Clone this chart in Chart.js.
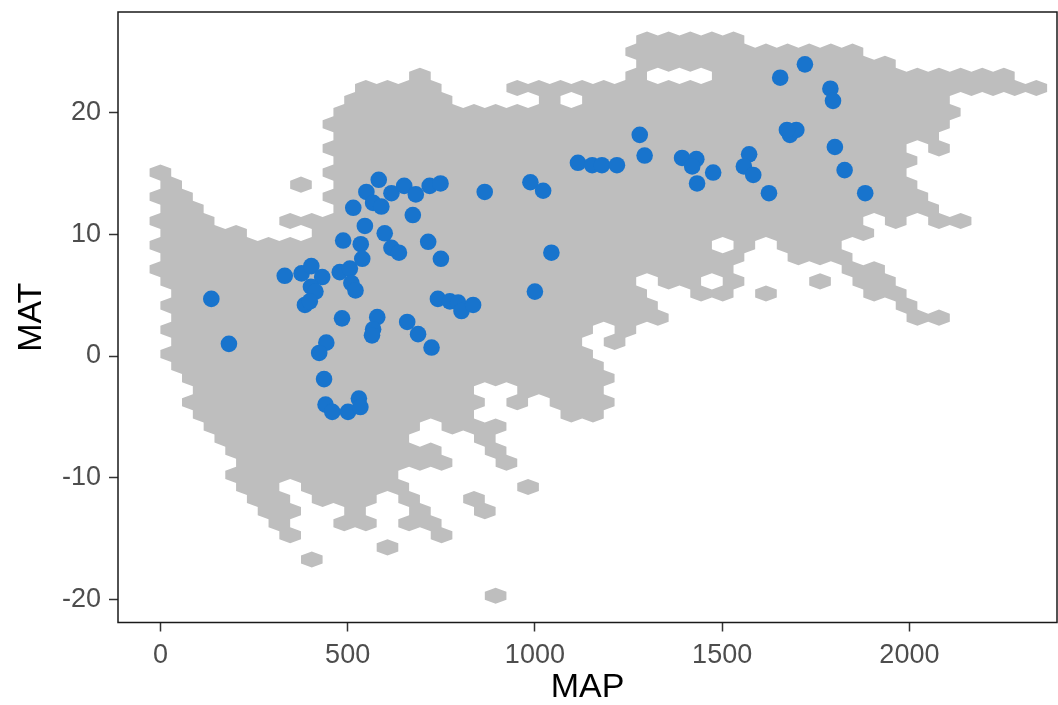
<!DOCTYPE html>
<html>
<head>
<meta charset="utf-8">
<script src="https://cdn.jsdelivr.net/npm/chart.js@4.4.0/dist/chart.umd.js"></script>
<style>
  html, body { margin: 0; padding: 0; background: #fff; }
  #wrap { width: 1058px; height: 705px; }
</style>
</head>
<body>
<div id="wrap"><canvas id="chart" width="1058" height="705"></canvas></div>
<script>
// Site points: mean annual precipitation (MAP) and mean annual temperature (MAT)
const siteMAP = [136, 183, 332, 377, 403, 432, 402, 414, 386, 399,
                 479, 506, 510, 521, 485, 579, 568, 565, 659, 688,
                 724, 741, 773, 795, 804, 835, 443, 424, 437, 441,
                 459, 501, 530, 534, 546, 488, 535, 539, 599, 617,
                 637, 674, 715, 749, 1044, 1000, 583, 550, 568, 590,
                 515, 617, 651, 682, 719, 748, 866, 988, 1022, 1115,
                 1153, 1179, 1219, 1280, 1293, 1393, 1431, 1420, 1476, 1433,
                 1572, 1558, 1583, 1625, 1655, 1721, 1789, 1796, 1681, 1698,
                 1673, 1801, 1827, 1882];
const siteMAT = [4.7, 1.0, 6.6, 6.8, 7.4, 6.5, 5.7, 5.3, 4.2, 4.5,
                 6.9, 7.2, 6.0, 5.4, 3.1, 3.2, 2.2, 1.7, 2.8, 1.8,
                 0.7, 4.7, 4.5, 4.4, 3.7, 4.2, 1.1, 0.25, -1.9, -4.0,
                 -4.6, -4.6, -3.5, -4.2, 10.7, 9.5, 9.2, 8.0, 10.1, 8.9,
                 8.5, 11.6, 9.4, 8.0, 8.5, 5.3, 14.5, 13.5, 12.6, 12.3,
                 12.2, 13.4, 14.0, 13.3, 14.0, 14.2, 13.5, 14.3, 13.6, 15.9,
                 15.7, 15.7, 15.7, 18.2, 16.5, 16.3, 16.2, 15.6, 15.1, 14.2,
                 16.6, 15.6, 14.9, 13.4, 22.9, 24.0, 22.0, 21.0, 18.2, 18.6,
                 18.6, 17.2, 15.3, 13.4];

// Hex grid of the background density layer (binwidths and first row)
const hexBinX = 57.75;
const hexBinY = 0.995;
const hexOriginX = 0;
const hexOriginY = -19.73;

// Occupied hex cells: [row, first column, last column]; even rows are shifted half a bin
const hexRuns = [
  [46, 22, 26],
  [45, 22, 32],
  [44, 22, 33],
  [43, 12, 12], [43, 22, 22], [43, 26, 39],
  [42, 9, 12], [42, 16, 40],
  [41, 9, 13], [41, 18, 18], [41, 20, 36],
  [40, 8, 36],
  [39, 8, 36],
  [38, 8, 35],
  [37, 8, 34], [37, 36, 36],
  [36, 8, 34],
  [35, 0, 0], [35, 8, 34],
  [34, 0, 0], [34, 6, 6], [34, 8, 34],
  [33, 0, 1], [33, 8, 35],
  [32, 0, 1], [32, 8, 35],
  [31, 0, 2], [31, 6, 32], [31, 34, 34], [31, 36, 37],
  [30, 0, 3], [30, 7, 32],
  [29, 0, 25], [29, 27, 27], [29, 29, 31],
  [28, 0, 26], [28, 29, 31],
  [27, 0, 26], [27, 32, 33],
  [26, 0, 21], [26, 23, 24], [26, 26, 26], [26, 30, 30], [26, 32, 33],
  [25, 1, 22], [25, 25, 26], [25, 28, 28], [25, 33, 34],
  [24, 0, 22], [24, 34, 34],
  [23, 1, 23], [23, 35, 36],
  [22, 0, 19], [22, 21, 21],
  [21, 1, 19], [21, 21, 21],
  [20, 0, 19],
  [19, 1, 20],
  [18, 1, 20],
  [17, 2, 14], [17, 17, 20],
  [16, 1, 14], [16, 16, 16], [16, 18, 20],
  [15, 2, 14], [15, 19, 20],
  [14, 2, 11], [14, 13, 15],
  [13, 3, 11], [13, 15, 15],
  [12, 3, 12], [12, 15, 15],
  [11, 4, 13], [11, 16, 16],
  [10, 3, 10],
  [9, 4, 5], [9, 7, 11], [9, 17, 17],
  [8, 4, 5], [8, 7, 9], [8, 11, 11], [8, 14, 14],
  [7, 5, 6], [7, 9, 9], [7, 12, 12], [7, 15, 15],
  [6, 5, 5], [6, 8, 9], [6, 11, 12],
  [5, 6, 6], [5, 13, 13],
  [4, 10, 10],
  [3, 7, 7],
  [0, 15, 15]
];

// Axis ticks
const xTicks = [0, 500, 1000, 1500, 2000];
const yTicks = [-20, -10, 0, 10, 20];

const FONT = "'Liberation Sans', Arial, sans-serif";
const HEX_GREY = '#BEBEBE';
const POINT_BLUE = '#1874CD';

// Build hex centers in data units
function hexCenters() {
  const pts = [];
  hexRuns.forEach(([row, c0, c1]) => {
    const shift = row % 2 === 0 ? 0.5 : 0;
    for (let c = c0; c <= c1; c++) {
      pts.push({ x: hexOriginX + (c + shift) * hexBinX, y: hexOriginY + row * hexBinY });
    }
  });
  return pts;
}

// Fill all hex cells as one path so neighbouring cells show no seams
const hexLayer = {
  id: 'hexLayer',
  beforeDatasetsDraw(chart) {
    const idx = chart.data.datasets.findIndex(d => d.label === 'hex');
    const meta = chart.getDatasetMeta(idx);
    const xs = chart.scales.x, ys = chart.scales.y;
    const w = Math.abs(xs.getPixelForValue(hexBinX) - xs.getPixelForValue(0));
    const h = Math.abs(ys.getPixelForValue(0) - ys.getPixelForValue(hexBinY)) * 4 / 3;
    const { ctx, chartArea: a } = chart;
    ctx.save();
    ctx.beginPath();
    ctx.rect(a.left, a.top, a.right - a.left, a.bottom - a.top);
    ctx.clip();
    ctx.fillStyle = HEX_GREY;
    ctx.beginPath();
    meta.data.forEach(pt => {
      const { x, y } = pt;
      ctx.moveTo(x, y - h / 2);
      ctx.lineTo(x + w / 2, y - h / 4);
      ctx.lineTo(x + w / 2, y + h / 4);
      ctx.lineTo(x, y + h / 2);
      ctx.lineTo(x - w / 2, y + h / 4);
      ctx.lineTo(x - w / 2, y - h / 4);
      ctx.closePath();
    });
    ctx.fill();
    ctx.restore();
  }
};

// Panel border around the plotting area
const panelBorder = {
  id: 'panelBorder',
  afterDatasetsDraw(chart) {
    const { ctx, chartArea: a } = chart;
    ctx.save();
    ctx.strokeStyle = '#1a1a1a';
    ctx.lineWidth = 1.5;
    ctx.strokeRect(a.left, a.top, a.right - a.left, a.bottom - a.top);
    ctx.restore();
  }
};

const tickGrid = {
  display: true,
  drawOnChartArea: false,
  drawTicks: true,
  tickLength: 9,
  tickWidth: 1.5,
  tickColor: '#333333'
};

new Chart(document.getElementById('chart'), {
  type: 'scatter',
  data: {
    datasets: [
      {
        label: 'sites',
        data: siteMAP.map((x, i) => ({ x, y: siteMAT[i] })),
        backgroundColor: POINT_BLUE,
        borderWidth: 0,
        pointRadius: 8.3,
        pointHoverRadius: 8.3,
        order: 1
      },
      {
        label: 'hex',
        data: hexCenters(),
        backgroundColor: HEX_GREY,
        pointRadius: 0,
        pointHoverRadius: 0,
        order: 2
      }
    ]
  },
  plugins: [hexLayer, panelBorder],
  options: {
    responsive: false,
    animation: false,
    events: [],
    layout: { autoPadding: false, padding: { top: 12, right: 1, left: 0, bottom: 0 } },
    plugins: {
      legend: { display: false },
      tooltip: { enabled: false }
    },
    scales: {
      x: {
        type: 'linear',
        min: -113.2,
        max: 2394.1,
        afterBuildTicks: s => { s.ticks = xTicks.map(v => ({ value: v })); },
        afterFit: s => { s.height = 82.5; s.paddingLeft = 0; s.paddingRight = 0; },
        grid: tickGrid,
        border: { display: false },
        ticks: {
          color: '#4D4D4D',
          font: { family: FONT, size: 27 },
          padding: 8,
          maxRotation: 0,
          autoSkip: false,
          callback: v => String(v)
        },
        title: {
          display: true,
          text: 'MAP',
          color: '#000000',
          font: { family: FONT, size: 34, lineHeight: 1 },
          padding: { top: 0, bottom: 0 }
        }
      },
      y: {
        type: 'linear',
        min: -21.93,
        max: 28.31,
        afterBuildTicks: s => { s.ticks = yTicks.map(v => ({ value: v })); },
        afterFit: s => { s.width = 118; s.paddingTop = 0; s.paddingBottom = 0; },
        grid: tickGrid,
        border: { display: false },
        ticks: {
          color: '#4D4D4D',
          font: { family: FONT, size: 27 },
          padding: 8,
          callback: v => String(v)
        },
        title: {
          display: true,
          text: 'MAT',
          color: '#000000',
          font: { family: FONT, size: 34, lineHeight: 1 },
          padding: { top: 15, bottom: 0 }
        }
      }
    }
  }
});
</script>
</body>
</html>
